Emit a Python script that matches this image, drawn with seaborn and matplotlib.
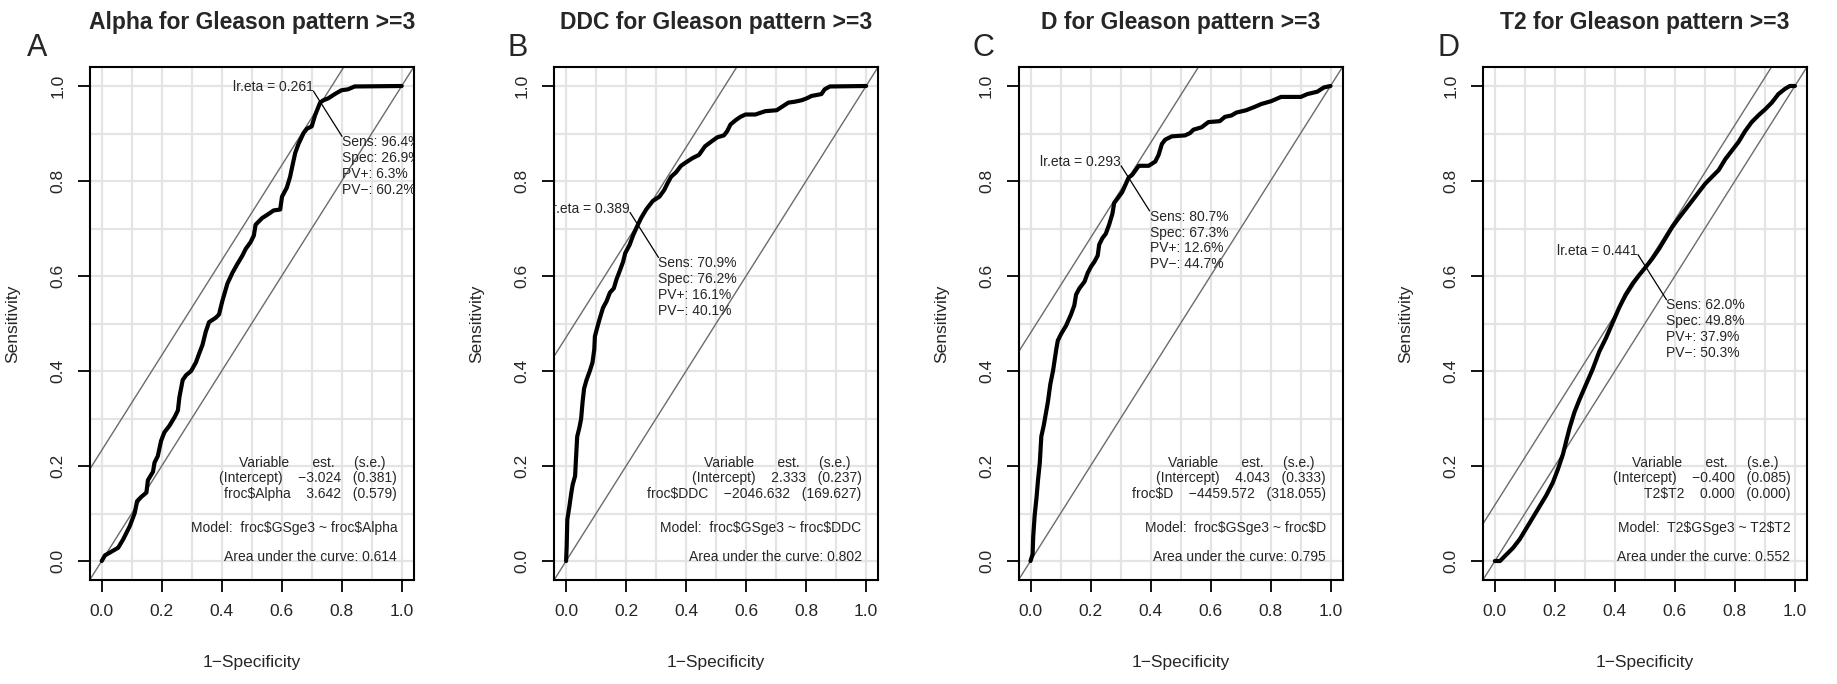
import numpy as np
import seaborn as sns
import matplotlib.pyplot as plt
from matplotlib.ticker import FormatStrFormatter, MultipleLocator

# ROC curves: 1-specificity, sensitivity
fpr_alpha = [0, 0.011, 0.028, 0.055, 0.072, 0.094, 0.110, 0.118, 0.132, 0.149, 0.154, 0.171,
             0.176, 0.187, 0.198, 0.209, 0.226, 0.243, 0.254, 0.259, 0.270, 0.281, 0.298,
             0.314, 0.325, 0.336, 0.347, 0.358, 0.380, 0.391, 0.402, 0.419, 0.436, 0.452,
             0.469, 0.480, 0.496, 0.507, 0.513, 0.535, 0.557, 0.573, 0.595, 0.601, 0.617,
             0.628, 0.634, 0.645, 0.656, 0.673, 0.684, 0.700, 0.711, 0.728, 0.739, 0.755,
             0.777, 0.799, 0.821, 0.843, 1.0]
tpr_alpha = [0, 0.012, 0.018, 0.028, 0.046, 0.074, 0.101, 0.126, 0.135, 0.144, 0.170, 0.188,
             0.207, 0.221, 0.253, 0.271, 0.285, 0.303, 0.317, 0.345, 0.381, 0.391, 0.400,
             0.418, 0.437, 0.455, 0.483, 0.503, 0.512, 0.519, 0.547, 0.584, 0.607, 0.625,
             0.643, 0.657, 0.671, 0.685, 0.708, 0.722, 0.731, 0.738, 0.740, 0.767, 0.786,
             0.809, 0.827, 0.859, 0.878, 0.901, 0.910, 0.915, 0.938, 0.965, 0.970, 0.974,
             0.983, 0.991, 0.993, 0.999, 1.0]

fpr_ddc = [0, 0.002, 0.004, 0.011, 0.017, 0.022, 0.030, 0.033, 0.037, 0.044, 0.050, 0.055,
           0.060, 0.068, 0.079, 0.088, 0.094, 0.096, 0.104, 0.112, 0.123, 0.135, 0.146,
           0.159, 0.168, 0.179, 0.190, 0.197, 0.212, 0.223, 0.237, 0.250, 0.267, 0.289,
           0.311, 0.327, 0.338, 0.350, 0.366, 0.383, 0.399, 0.421, 0.443, 0.463, 0.482,
           0.504, 0.526, 0.537, 0.548, 0.565, 0.581, 0.598, 0.631, 0.664, 0.702, 0.719,
           0.741, 0.763, 0.785, 0.802, 0.818, 0.851, 0.862, 0.879, 1.0]
tpr_ddc = [0, 0.032, 0.087, 0.115, 0.142, 0.161, 0.179, 0.216, 0.262, 0.280, 0.299, 0.335,
           0.363, 0.381, 0.400, 0.418, 0.446, 0.473, 0.492, 0.510, 0.533, 0.547, 0.565,
           0.574, 0.593, 0.611, 0.630, 0.648, 0.666, 0.685, 0.705, 0.722, 0.740, 0.758,
           0.767, 0.781, 0.795, 0.809, 0.818, 0.832, 0.839, 0.848, 0.855, 0.873, 0.882,
           0.892, 0.896, 0.905, 0.919, 0.928, 0.935, 0.940, 0.940, 0.947, 0.949, 0.956,
           0.965, 0.967, 0.970, 0.974, 0.979, 0.983, 0.993, 0.999, 1.0]

fpr_d = [0, 0.007, 0.009, 0.014, 0.020, 0.025, 0.031, 0.036, 0.044, 0.053, 0.058, 0.066,
         0.075, 0.086, 0.091, 0.102, 0.119, 0.135, 0.146, 0.152, 0.163, 0.180, 0.191,
         0.202, 0.213, 0.224, 0.229, 0.240, 0.251, 0.262, 0.273, 0.279, 0.290, 0.306,
         0.327, 0.339, 0.361, 0.394, 0.416, 0.427, 0.438, 0.449, 0.471, 0.515, 0.532,
         0.543, 0.570, 0.593, 0.631, 0.648, 0.670, 0.686, 0.719, 0.747, 0.769, 0.802,
         0.835, 0.901, 0.923, 0.956, 0.978, 1.0]
tpr_d = [0, 0.014, 0.051, 0.097, 0.133, 0.170, 0.207, 0.262, 0.285, 0.317, 0.335, 0.372,
         0.400, 0.446, 0.464, 0.478, 0.496, 0.519, 0.538, 0.561, 0.574, 0.588, 0.607,
         0.620, 0.630, 0.643, 0.666, 0.680, 0.689, 0.708, 0.731, 0.754, 0.763, 0.777,
         0.807, 0.813, 0.832, 0.832, 0.841, 0.855, 0.878, 0.887, 0.894, 0.896, 0.901,
         0.908, 0.913, 0.924, 0.926, 0.935, 0.938, 0.944, 0.949, 0.956, 0.962, 0.968,
         0.977, 0.977, 0.983, 0.988, 0.997, 1.0]

fpr_t2 = [0, 0.017, 0.039, 0.061, 0.083, 0.105, 0.127, 0.149, 0.171, 0.193, 0.210, 0.227,
          0.238, 0.249, 0.265, 0.282, 0.304, 0.326, 0.348, 0.370, 0.392, 0.414, 0.436,
          0.459, 0.481, 0.503, 0.525, 0.547, 0.569, 0.591, 0.613, 0.635, 0.657, 0.680,
          0.702, 0.724, 0.746, 0.768, 0.790, 0.812, 0.834, 0.856, 0.878, 0.901, 0.923,
          0.945, 0.967, 0.983, 1.0]
tpr_t2 = [0, 0, 0.014, 0.028, 0.046, 0.069, 0.092, 0.115, 0.138, 0.165, 0.193, 0.225,
          0.253, 0.280, 0.313, 0.340, 0.372, 0.404, 0.441, 0.469, 0.501, 0.533, 0.561,
          0.584, 0.602, 0.619, 0.637, 0.657, 0.680, 0.703, 0.722, 0.740, 0.758, 0.777,
          0.795, 0.809, 0.823, 0.846, 0.864, 0.882, 0.905, 0.924, 0.938, 0.951, 0.965,
          0.983, 0.994, 1.0, 1.0]

letters = ["A", "B", "C", "D"]
markers = ["Alpha", "DDC", "D", "T2"]
eta = ["0.261", "0.389", "0.293", "0.441"]
sens = [96.4, 70.9, 80.7, 62.0]
spec = [26.9, 76.2, 67.3, 49.8]
ppv = [6.3, 16.1, 12.6, 37.9]
npv = [60.2, 40.1, 44.7, 50.3]
var_names = ["froc$Alpha", "froc$DDC", "froc$D", "T2$T2"]
icpt = ["\u22123.024", "2.333", "4.043", "\u22120.400"]
icpt_se = ["0.381", "0.237", "0.333", "0.085"]
slope = ["3.642", "\u22122046.632", "\u22124459.572", "0.000"]
slope_se = ["0.579", "169.627", "318.055", "0.000"]
models = ["froc$GSge3 ~ froc$Alpha", "froc$GSge3 ~ froc$DDC",
          "froc$GSge3 ~ froc$D", "T2$GSge3 ~ T2$T2"]
auc = ["0.614", "0.802", "0.795", "0.552"]

curves = [(fpr_alpha, tpr_alpha), (fpr_ddc, tpr_ddc), (fpr_d, tpr_d), (fpr_t2, tpr_t2)]

sns.set_style("white")
plt.rcParams['font.family'] = ['Liberation Sans', 'DejaVu Sans']

W, H = 1837, 684
fig = plt.figure(figsize=(W / 100, H / 100), dpi=100)
letter_x = [27, 508, 972, 1437]

for i in range(4):
    left = 89.7 + 464.4 * i
    ax = fig.add_axes([left / W, 1 - 580 / H, 324 / W, 513 / H])
    ax.set_xlim(-0.04, 1.04)
    ax.set_ylim(-0.04, 1.04)
    ax.xaxis.set_major_locator(MultipleLocator(0.2))
    ax.yaxis.set_major_locator(MultipleLocator(0.2))
    ax.xaxis.set_minor_locator(MultipleLocator(0.1))
    ax.yaxis.set_minor_locator(MultipleLocator(0.1))
    ax.xaxis.set_major_formatter(FormatStrFormatter('%.1f'))
    ax.yaxis.set_major_formatter(FormatStrFormatter('%.1f'))
    ax.grid(which='both', color='#e4e4e4', lw=1.6)
    ax.set_axisbelow(True)

    cx = 1 - spec[i] / 100
    cy = sens[i] / 100
    ax.axline((0, 0), slope=1, color='#6b6b6b', lw=1.0, zorder=1)
    ax.axline((0, cy - cx), slope=1, color='#6b6b6b', lw=1.0, zorder=1)

    fpr, tpr = curves[i]
    sns.lineplot(x=fpr, y=tpr, ax=ax, color='black', lw=3.0, sort=False,
                 estimator=None, zorder=3)

    # optimal cut point annotation
    ax.plot([cx - 0.025, cx + 0.07], [cy + 0.025, cy - 0.07], color='black', lw=0.9, zorder=4)
    ax.text(cx - 0.025, cy + 0.033, f"lr.eta = {eta[i]}", ha='right', va='center',
            fontsize=10, clip_on=True)
    lines = [f"Sens: {sens[i]:.1f}%", f"Spec: {spec[i]:.1f}%",
             f"PV+: {ppv[i]:.1f}%", f"PV\u2212: {npv[i]:.1f}%"]
    for k, s in enumerate(lines):
        ax.text(cx + 0.07, cy - 0.082 - 0.0335 * k, s, ha='left', va='center',
                fontsize=10, clip_on=True)

    # model summary
    xr = 0.985
    ax.annotate("Variable      est.     (s.e.)", xy=(xr, 0.207), xytext=(-8.3, 0),
                textcoords='offset points', ha='right', va='center', fontsize=10)
    ax.text(xr, 0.175, f"(Intercept)    {icpt[i]}   ({icpt_se[i]})", ha='right',
            va='center', fontsize=10, parse_math=False)
    ax.text(xr, 0.142, f"{var_names[i]}    {slope[i]}   ({slope_se[i]})", ha='right',
            va='center', fontsize=10, parse_math=False)
    ax.text(xr, 0.069, f"Model:  {models[i]}", ha='right', va='center', fontsize=10,
            parse_math=False)
    ax.text(xr, 0.009, f"Area under the curve: {auc[i]}", ha='right', va='center',
            fontsize=10)

    for sp in ax.spines.values():
        sp.set_visible(True)
        sp.set_color('black')
        sp.set_linewidth(1.5)
    ax.tick_params(which='major', direction='out', length=8.6, width=1.3,
                   color='black', labelsize=12.5, pad=9, left=True, bottom=True)
    ax.tick_params(which='minor', length=0)
    for lab in ax.get_yticklabels():
        lab.set_rotation(90)
        lab.set_va('center')

    ax.set_xlabel("1\u2212Specificity", fontsize=12.5)
    ax.set_ylabel("Sensitivity", fontsize=12.5)
    ax.xaxis.set_label_coords(0.5, -82 / 513)
    ax.xaxis.label.set_va('center')
    ax.yaxis.set_label_coords(-77 / 324, 0.5)
    ax.yaxis.label.set_va('center')

    ax.text(0.5, 1 + 45 / 513, f"{markers[i]} for Gleason pattern >=3", transform=ax.transAxes,
            ha='center', va='center', fontsize=16.5, fontweight='bold')
    fig.text(letter_x[i] / W, 1 - 48 / H, letters[i], fontsize=22, ha='left', va='center')

fig.savefig("out.png", dpi=100)
